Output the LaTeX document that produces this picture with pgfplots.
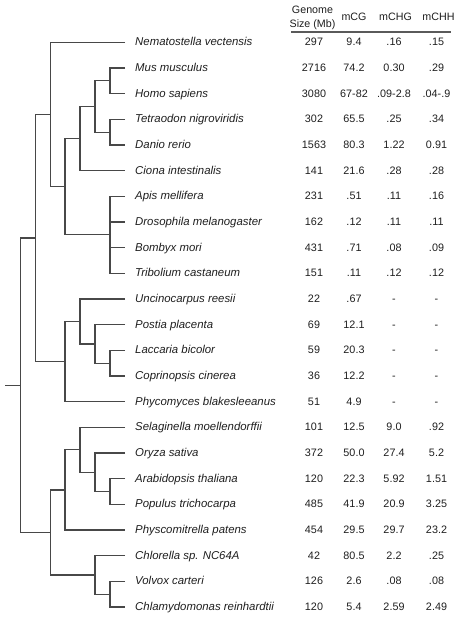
\documentclass[border=0pt]{standalone}
\usepackage{pgfplots}
\usepackage{pgfplotstable}
\pgfplotsset{compat=1.18}
\usepackage{fontspec}
\setmainfont{Liberation Sans}
\definecolor{treecol}{HTML}{484848}
\definecolor{rulecol}{HTML}{5A5A5A}
\definecolor{txt}{HTML}{1E1E1E}
\pgfplotstableread{
y name gs mcg mchg mchh
42.3 {Nematostella vectensis} 297 9.4 .16 .15
68.0 {Mus musculus} 2716 74.2 0.30 .29
93.6 {Homo sapiens} 3080 67-82 .09-2.8 .04-.9
119.3 {Tetraodon nigroviridis} 302 65.5 .25 .34
145.0 {Danio rerio} 1563 80.3 1.22 0.91
170.7 {Ciona intestinalis} 141 21.6 .28 .28
196.3 {Apis mellifera} 231 .51 .11 .16
222.0 {Drosophila melanogaster} 162 .12 .11 .11
247.7 {Bombyx mori} 431 .71 .08 .09
273.3 {Tribolium castaneum} 151 .11 .12 .12
299.0 {Uncinocarpus reesii} 22 .67 - -
324.7 {Postia placenta} 69 12.1 - -
350.3 {Laccaria bicolor} 59 20.3 - -
376.0 {Coprinopsis cinerea} 36 12.2 - -
401.7 {Phycomyces blakesleeanus} 51 4.9 - -
427.4 {Selaginella moellendorffii} 101 12.5 9.0 .92
453.0 {Oryza sativa} 372 50.0 27.4 5.2
478.7 {Arabidopsis thaliana} 120 22.3 5.92 1.51
504.4 {Populus trichocarpa} 485 41.9 20.9 3.25
530.0 {Physcomitrella patens} 454 29.5 29.7 23.2
555.7 {Chlorella sp. NC64A} 42 80.5 2.2 .25
581.4 {Volvox carteri} 126 2.6 .08 .08
607.0 {Chlamydomonas reinhardtii} 120 5.4 2.59 2.49
}\datatable
\begin{document}
\begin{tikzpicture}
\begin{axis}[
  width=459pt, height=618pt, scale only axis,
  xmin=0, xmax=459, ymin=0, ymax=618, y dir=reverse,
  hide axis, clip=false,
  tree/.style={color=treecol, line width=1.3pt, mark=none, line join=miter},
  lab/.style={draw=none, mark=none, nodes near coords, point meta=explicit symbolic,
    nodes near coords style={text=txt, inner sep=0pt, text height=0.716em, text depth=0pt}},
]
\addplot[draw=none, mark=none] coordinates {(0,0) (459,618)};
% tree
\addplot[tree] coordinates {(5,385.2) (20.7,385.2)};
\addplot[tree] coordinates {(35.5,238.0) (20.7,238.0) (20.7,532.4) (50.5,532.4)};
\addplot[tree] coordinates {(50.5,114.5) (35.5,114.5) (35.5,361.6) (65,361.6)};
\addplot[tree] coordinates {(125,42.3) (50.5,42.3) (50.5,186.7) (65,186.7)};
\addplot[tree] coordinates {(80,138.6) (65,138.6) (65,234.8) (110,234.8)};
\addplot[tree] coordinates {(95,106.5) (80,106.5) (80,170.7) (125,170.7)};
\addplot[tree] coordinates {(110,80.8) (95,80.8) (95,132.2) (110,132.2)};
\addplot[tree] coordinates {(125,68.0) (110,68.0) (110,93.6) (125,93.6)};
\addplot[tree] coordinates {(125,119.3) (110,119.3) (110,145.0) (125,145.0)};
\addplot[tree] coordinates {(125,196.3) (110,196.3) (110,273.3) (125,273.3)};
\addplot[tree] coordinates {(110,222.0) (125,222.0)};
\addplot[tree] coordinates {(110,247.7) (125,247.7)};
\addplot[tree] coordinates {(80,321.5) (65,321.5) (65,401.7) (125,401.7)};
\addplot[tree] coordinates {(125,299.0) (80,299.0) (80,343.9) (95,343.9)};
\addplot[tree] coordinates {(125,324.7) (95,324.7) (95,363.2) (110,363.2)};
\addplot[tree] coordinates {(125,350.3) (110,350.3) (110,376.0) (125,376.0)};
\addplot[tree] coordinates {(65,489.9) (50.5,489.9) (50.5,575.0) (95,575.0)};
\addplot[tree] coordinates {(80,449.8) (65,449.8) (65,530.0) (125,530.0)};
\addplot[tree] coordinates {(125,427.4) (80,427.4) (80,472.3) (95,472.3)};
\addplot[tree] coordinates {(125,453.0) (95,453.0) (95,491.5) (110,491.5)};
\addplot[tree] coordinates {(125,478.7) (110,478.7) (110,504.4) (125,504.4)};
\addplot[tree] coordinates {(125,555.7) (95,555.7) (95,594.2) (110,594.2)};
\addplot[tree] coordinates {(125,581.4) (110,581.4) (110,607.0) (125,607.0)};
% header rule
\addplot[color=rulecol, line width=1.8pt, mark=none] coordinates {(291,32.3) (451,32.3)};
% labels
\addplot[lab, nodes near coords style={anchor=west, font=\fontsize{11.4}{13}\selectfont\itshape}]
  table[x expr=135, y=y, meta=name] {\datatable};
\addplot[lab, nodes near coords style={anchor=center, font=\fontsize{10.8}{12}\selectfont}]
  table[x expr=314, y=y, meta=gs] {\datatable};
\addplot[lab, nodes near coords style={anchor=center, font=\fontsize{10.8}{12}\selectfont}]
  table[x expr=354, y=y, meta=mcg] {\datatable};
\addplot[lab, nodes near coords style={anchor=center, font=\fontsize{10.8}{12}\selectfont}]
  table[x expr=394, y=y, meta=mchg] {\datatable};
\addplot[lab, nodes near coords style={anchor=center, font=\fontsize{10.8}{12}\selectfont}]
  table[x expr=436.5, y=y, meta=mchh] {\datatable};
% header
\begin{scope}[every node/.style={text=txt, inner sep=0pt, text height=0.716em, text depth=0pt, font=\fontsize{10.7}{12}\selectfont}]
\node at (axis cs:312.5,9.5) {Genome};
\node at (axis cs:312.5,23.5) {Size (Mb)};
\node at (axis cs:354,16.5) {mCG};
\node at (axis cs:395.5,16.5) {mCHG};
\node at (axis cs:438.5,16.5) {mCHH};
\end{scope}
\end{axis}
\end{tikzpicture}
\end{document}
